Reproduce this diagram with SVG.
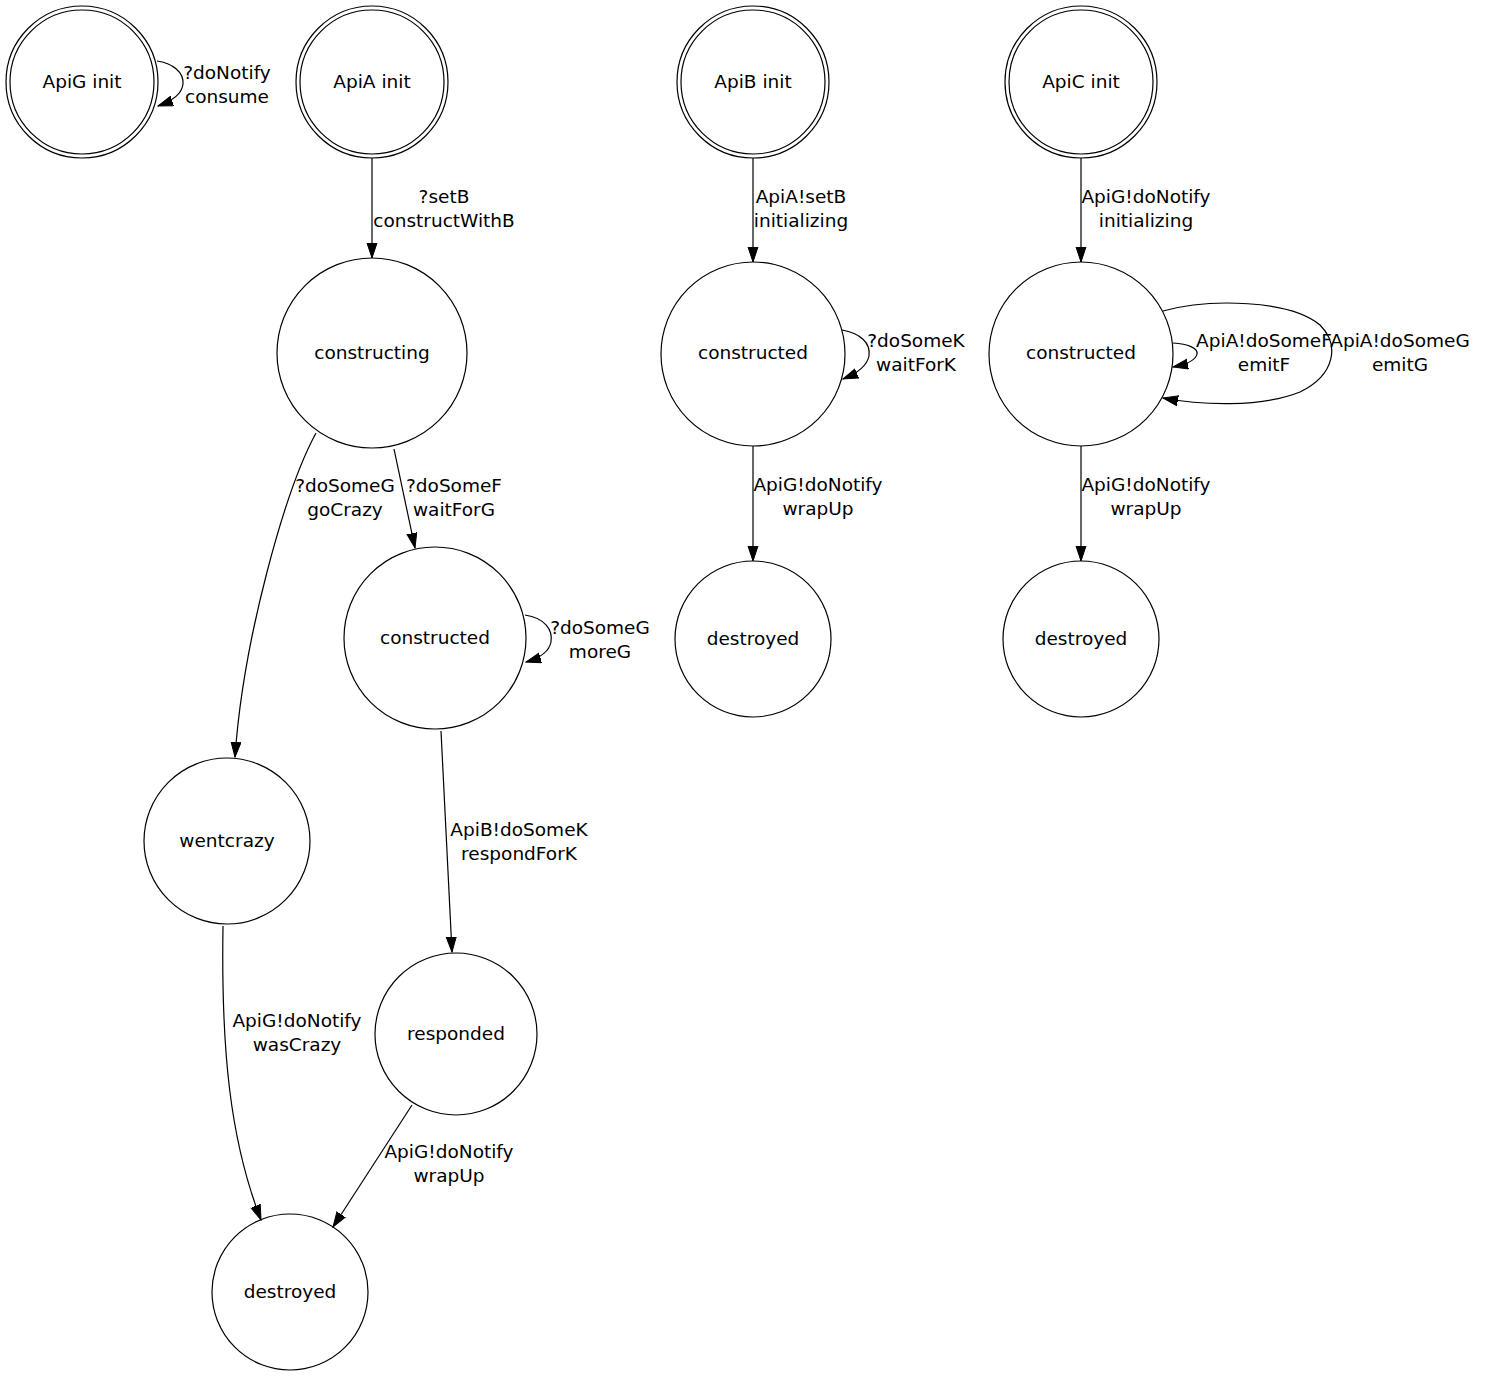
<svg xmlns="http://www.w3.org/2000/svg" width="1500" height="1379" viewBox="0 0 1500 1379">
<defs>
<marker id="arr" markerUnits="userSpaceOnUse" markerWidth="16" markerHeight="12" refX="15" refY="5.5" orient="auto">
<path d="M0,0.5 L15,5.5 L0,10.5 Z" fill="#000" stroke="#000" stroke-width="1"/>
</marker>
</defs>
<style>
.n{fill:none;stroke:#000;stroke-width:1.2}
.e{fill:none;stroke:#000;stroke-width:1.2;marker-end:url(#arr)}
text{font-family:"DejaVu Sans","Liberation Sans",sans-serif;font-size:18.5px;text-anchor:middle;fill:#000}
</style>
<rect width="1500" height="1379" fill="#fff"/>
<g id="connectors">
<path class="e" d="M157,61 C172,63 184,72 183,84 C182,94 172,101 158,106"/>
<path class="e" d="M372,158 L372,258"/>
<path class="e" d="M316,433 C285,490 243,640 235,757"/>
<path class="e" d="M394,449 L415,548"/>
<path class="e" d="M525,615 C545,618 553,630 551,642 C549,652 540,658 526,662"/>
<path class="e" d="M441,731 L452,952"/>
<path class="e" d="M223,926 C221,1050 230,1140 261,1220"/>
<path class="e" d="M412,1105 L333,1227"/>
<path class="e" d="M753,158 L753,262"/>
<path class="e" d="M842,330 C860,333 871,343 869,356 C867,366 858,373 843,379"/>
<path class="e" d="M753,446 L753,561"/>
<path class="e" d="M1081,158 L1081,262"/>
<path class="e" d="M1173,343 C1188,344 1198,348 1197,354 C1196,360 1188,364 1173,367"/>
<path class="e" d="M1163,311 C1210,298 1290,300 1320,325 C1340,345 1335,375 1300,392 C1260,408 1200,405 1163,398"/>
<path class="e" d="M1081,446 L1081,561"/>
<text x="227" y="79">?doNotify</text><text x="227" y="103">consume</text>
<text x="444" y="203">?setB</text><text x="444" y="227">constructWithB</text>
<text x="345" y="492">?doSomeG</text><text x="345" y="516">goCrazy</text>
<text x="454" y="492">?doSomeF</text><text x="454" y="516">waitForG</text>
<text x="600" y="634">?doSomeG</text><text x="600" y="658">moreG</text>
<text x="519" y="836">ApiB!doSomeK</text><text x="519" y="860">respondForK</text>
<text x="297" y="1027">ApiG!doNotify</text><text x="297" y="1051">wasCrazy</text>
<text x="449" y="1158">ApiG!doNotify</text><text x="449" y="1182">wrapUp</text>
<text x="801" y="203">ApiA!setB</text><text x="801" y="227">initializing</text>
<text x="916" y="347">?doSomeK</text><text x="916" y="371">waitForK</text>
<text x="818" y="491">ApiG!doNotify</text><text x="818" y="515">wrapUp</text>
<text x="1146" y="203">ApiG!doNotify</text><text x="1146" y="227">initializing</text>
<text x="1264" y="347">ApiA!doSomeF</text><text x="1264" y="371">emitF</text>
<text x="1400" y="347">ApiA!doSomeG</text><text x="1400" y="371">emitG</text>
<text x="1146" y="491">ApiG!doNotify</text><text x="1146" y="515">wrapUp</text>
</g>
<g id="apig_init"><circle class="n" cx="82" cy="82" r="76"/><circle class="n" cx="82" cy="82" r="72"/><text x="82" y="88">ApiG init</text></g>
<g id="apia_init"><circle class="n" cx="372" cy="82" r="76"/><circle class="n" cx="372" cy="82" r="72"/><text x="372" y="88">ApiA init</text></g>
<g id="apib_init"><circle class="n" cx="753" cy="82" r="76"/><circle class="n" cx="753" cy="82" r="72"/><text x="753" y="88">ApiB init</text></g>
<g id="apic_init"><circle class="n" cx="1081" cy="82" r="76"/><circle class="n" cx="1081" cy="82" r="72"/><text x="1081" y="88">ApiC init</text></g>
<g id="apia_constructing"><circle class="n" cx="372" cy="353" r="95"/><text x="372" y="359">constructing</text></g>
<g id="apia_constructed"><circle class="n" cx="435" cy="638" r="91"/><text x="435" y="644">constructed</text></g>
<g id="apia_wentcrazy"><circle class="n" cx="227" cy="841" r="83"/><text x="227" y="847">wentcrazy</text></g>
<g id="apia_responded"><circle class="n" cx="456" cy="1034" r="81"/><text x="456" y="1040">responded</text></g>
<g id="apia_destroyed"><circle class="n" cx="290" cy="1292" r="78"/><text x="290" y="1298">destroyed</text></g>
<g id="apib_constructed"><circle class="n" cx="753" cy="354" r="92"/><text x="753" y="359">constructed</text></g>
<g id="apib_destroyed"><circle class="n" cx="753" cy="639" r="78"/><text x="753" y="645">destroyed</text></g>
<g id="apic_constructed"><circle class="n" cx="1081" cy="354" r="92"/><text x="1081" y="359">constructed</text></g>
<g id="apic_destroyed"><circle class="n" cx="1081" cy="639" r="78"/><text x="1081" y="645">destroyed</text></g>
</svg>
